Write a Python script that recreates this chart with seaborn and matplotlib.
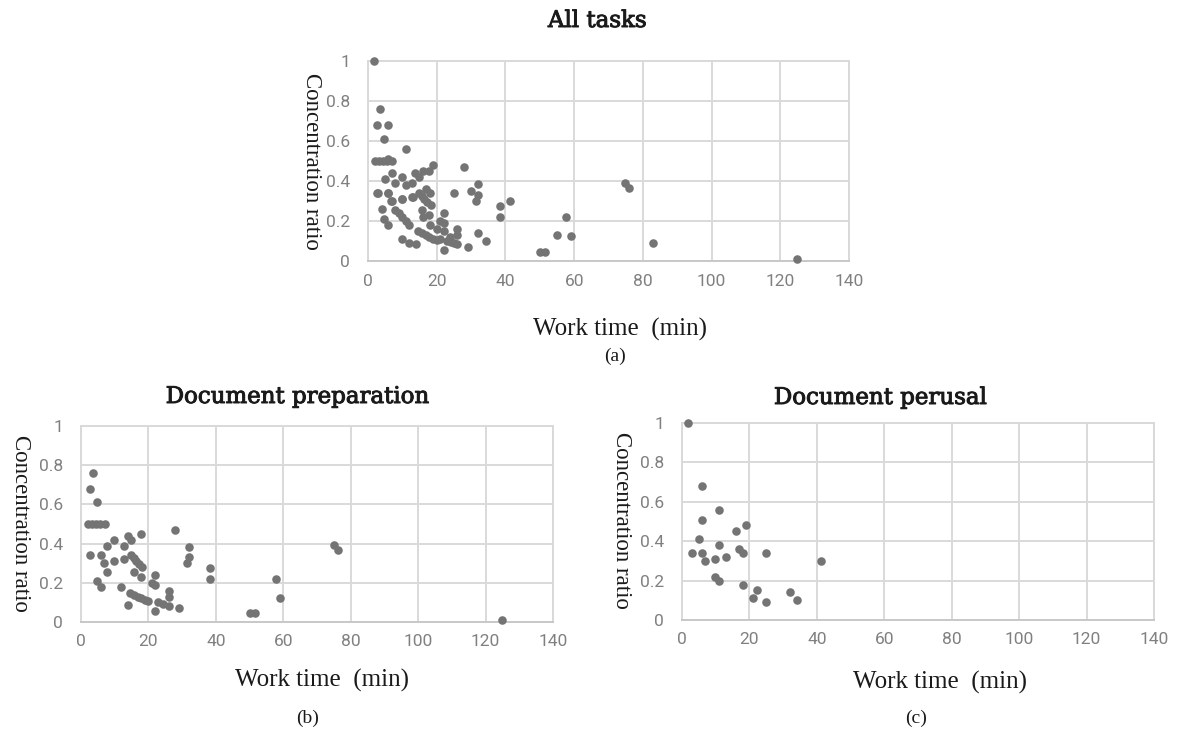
import numpy as np
import pandas as pd
import seaborn as sns
import matplotlib
matplotlib.use("Agg")
import matplotlib.pyplot as plt
import matplotlib.patheffects as pe

# ---- data ----
prep_time = [3.6, 2.6, 4.8, 2.0, 3.2, 4.4, 5.6, 7.0, 28.0, 17.8, 13.8, 14.8, 9.8, 7.8, 12.8, 32.0,
             2.6, 5.8, 6.8, 9.8, 12.8, 14.8, 15.6, 16.4, 17.2, 18.2, 32.0, 31.3, 7.8, 15.8, 17.8,
             22.0, 38.3, 38.3, 57.7, 4.8, 5.8, 21.0, 22.0, 11.8, 26.0, 14.6, 15.7, 16.8, 17.8,
             19.0, 20.0, 14.0, 22.0, 22.9, 24.2, 26.0, 26.0, 29.0, 50.2, 51.5, 59.0, 74.9, 76.1,
             125.0]
prep_ratio = [0.76, 0.68, 0.61, 0.50, 0.50, 0.50, 0.50, 0.50, 0.47, 0.45, 0.44, 0.42, 0.42, 0.39,
              0.39, 0.385, 0.34, 0.34, 0.30, 0.31, 0.32, 0.34, 0.325, 0.31, 0.295, 0.28, 0.33,
              0.30, 0.255, 0.255, 0.23, 0.24, 0.275, 0.22, 0.22, 0.21, 0.18, 0.20, 0.19, 0.18,
              0.16, 0.148, 0.14, 0.13, 0.12, 0.11, 0.105, 0.085, 0.055, 0.10, 0.093, 0.083, 0.13,
              0.07, 0.046, 0.046, 0.125, 0.392, 0.365, 0.012]

perusal_time = [1.8, 5.9, 5.9, 11.1, 5.0, 3.0, 5.9, 6.9, 9.9, 11.0, 13.1, 16.0, 19.0, 17.0, 18.0,
                25.0, 9.9, 11.0, 18.0, 22.1, 21.0, 25.0, 32.0, 34.2, 41.2]
perusal_ratio = [1.0, 0.68, 0.51, 0.56, 0.41, 0.34, 0.34, 0.30, 0.31, 0.38, 0.32, 0.45, 0.48, 0.36,
                 0.34, 0.34, 0.22, 0.20, 0.18, 0.15, 0.11, 0.09, 0.14, 0.10, 0.30]

# tasks of other kinds that appear only in "All tasks"
other_time = [4.0, 30.0, 55.0, 83.0, 10.0, 12.0, 7.0, 16.0, 20.0, 24.0, 9.0]
other_ratio = [0.26, 0.35, 0.13, 0.09, 0.11, 0.09, 0.44, 0.22, 0.16, 0.12, 0.24]

x_ticks = [0, 20, 40, 60, 80, 100, 120, 140]
y_ticks = [0, 0.2, 0.4, 0.6, 0.8, 1.0]
y_ticklabels = ["0", "0.2", "0.4", "0.6", "0.8", "1"]

titles = ["All tasks", "Document preparation", "Document perusal"]
captions = ["(a)", "(b)", "(c)"]
xlabel = "Work time\u2002(min)"
ylabel = "Concentration ratio"

df_prep = pd.DataFrame({"time": prep_time, "ratio": prep_ratio})
df_per = pd.DataFrame({"time": perusal_time, "ratio": perusal_ratio})
df_oth = pd.DataFrame({"time": other_time, "ratio": other_ratio})
df_all = pd.concat([df_prep, df_per, df_oth], ignore_index=True)

sns.set_theme(style="white")
plt.rcParams["font.family"] = ["DejaVu Sans"]

W, H = 1180, 733
fig = plt.figure(figsize=(W / 100, H / 100), dpi=100)

def px_axes(x0, y0, x1, y1):
    return fig.add_axes([x0 / W, 1 - y1 / H, (x1 - x0) / W, (y1 - y0) / H])

DOT = "#747474"
GRID = "#d9d9d9"
TICKC = "#808080"

def style(ax):
    ax.set_xlim(0, 140)
    ax.set_ylim(0, 1)
    ax.set_xticks(x_ticks)
    ax.set_yticks(y_ticks)
    ax.set_xticklabels([str(t) for t in x_ticks], family="Roboto", fontsize=12.5, color=TICKC)
    ax.set_yticklabels(y_ticklabels, family="Roboto", fontsize=12.5, color=TICKC)
    ax.tick_params(axis="x", length=0, pad=9)
    ax.tick_params(axis="y", length=0, pad=13)
    ax.grid(True, color=GRID, linewidth=1.4)
    ax.set_axisbelow(True)
    for s in ax.spines.values():
        s.set_color(GRID)
        s.set_linewidth(1.4)
    ax.spines["bottom"].set_color("#c8c8c8")
    ax.set_xlabel("")
    ax.set_ylabel("")

panels = [
    (df_all, (368, 61, 849, 261)),
    (df_prep, (81, 426, 553, 622)),
    (df_per, (682, 423, 1154, 620)),
]
title_pos = [(597, 21), (297, 397), (880, 398)]
xlabel_pos = [(620, 329), (322, 680), (940, 682)]
caption_pos = [(615, 356), (308, 718), (916, 718)]
ylabel_pos = [(311, 161), (20, 523), (622, 520)]

thick = [pe.withStroke(linewidth=0.7, foreground="#1a1a1a")]

for i, (df, box) in enumerate(panels):
    ax = px_axes(*box)
    sns.scatterplot(data=df, x="time", y="ratio", ax=ax, color=DOT, s=38,
                    linewidth=0, clip_on=False, zorder=3)
    style(ax)
    tx, ty = title_pos[i]
    fig.text(tx / W, 1 - ty / H, titles[i], family="DejaVu Serif",
             fontsize=16.5, ha="center", va="center", color="#1a1a1a", path_effects=thick)
    lx, ly = xlabel_pos[i]
    fig.text(lx / W, 1 - ly / H, xlabel, family="Liberation Serif", fontsize=18,
             ha="center", va="center", color="#1a1a1a")
    cx, cy = caption_pos[i]
    fig.text(cx / W, 1 - cy / H, captions[i], family="Liberation Serif", fontsize=14,
             ha="center", va="center", color="#1a1a1a")
    yx, yy = ylabel_pos[i]
    fig.text(yx / W, 1 - yy / H, ylabel, family="Liberation Serif", fontsize=16.5,
             ha="center", va="center", rotation=-90, color="#1a1a1a")

fig.savefig("out.png", dpi=100, facecolor="white")
